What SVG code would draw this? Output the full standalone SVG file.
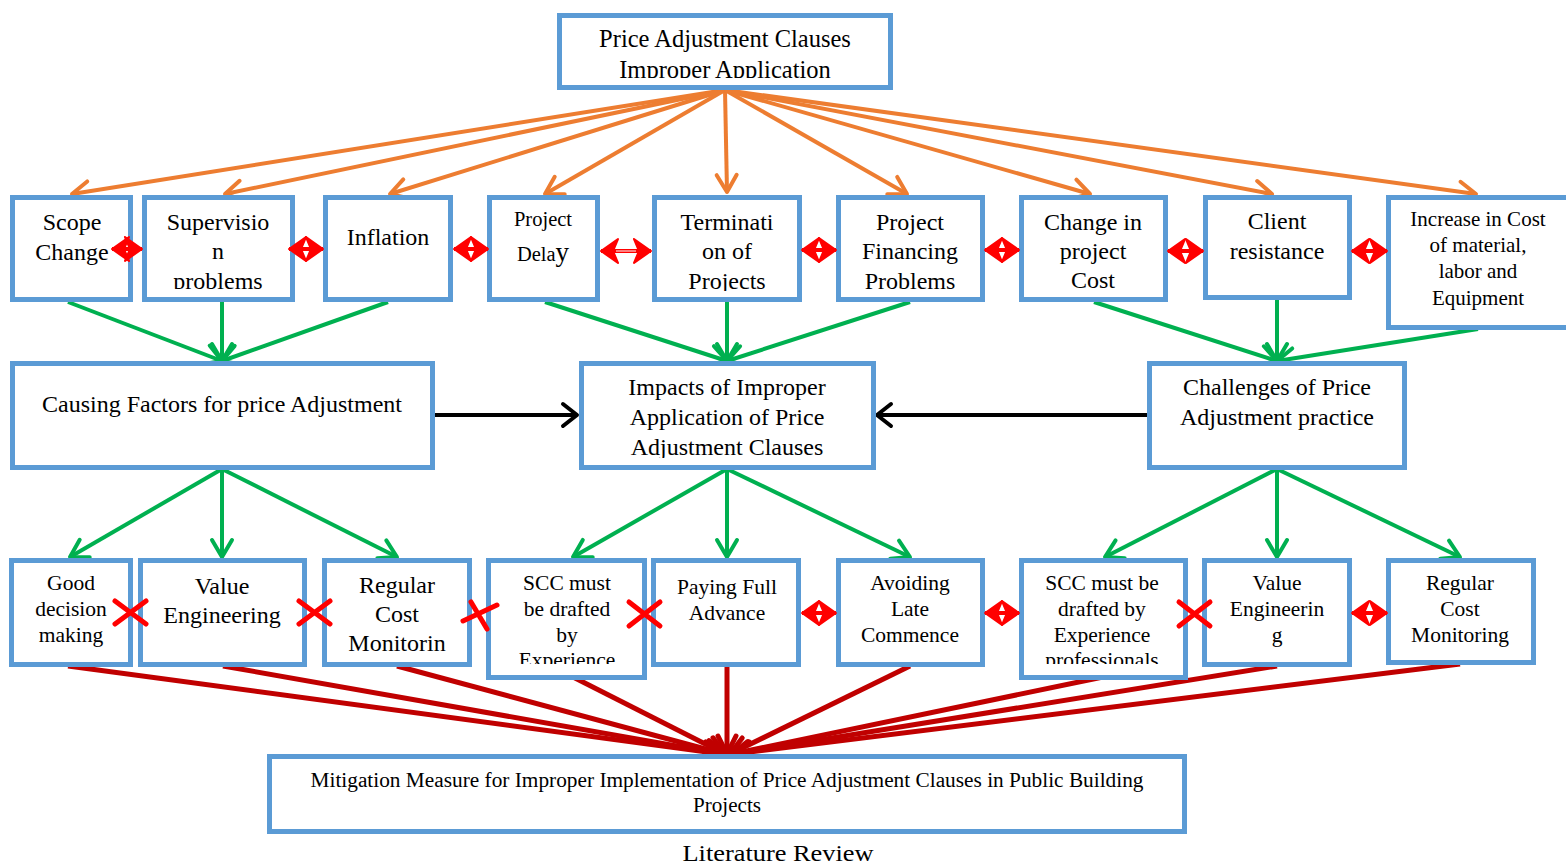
<svg xmlns="http://www.w3.org/2000/svg" width="1566" height="863" viewBox="0 0 1566 863">
<style>
.box{fill:#fff;stroke:#5B9BD5;stroke-width:5}
text{font-family:"Liberation Serif","Times New Roman",serif;fill:#000;text-anchor:middle}
.f21{font-size:24px}
.f19{font-size:21.5px}
.f18{font-size:21px}
.or{stroke:#ED7D31;stroke-width:4;fill:none}
.gr{stroke:#00B050;stroke-width:4;fill:none}
.bk{stroke:#000;stroke-width:4;fill:none}
.dr{stroke:#C00000;stroke-width:5;fill:none}
.rd{stroke:#FF0000;stroke-width:4;fill:none}
.rx{stroke:#FF0000;stroke-width:5;stroke-linecap:round;fill:none}
</style>
<defs>
<marker id="mo" markerUnits="userSpaceOnUse" viewBox="-22 -14 26 28" markerWidth="26" markerHeight="28" refX="0" refY="0" orient="auto" overflow="visible"><path d="M-17,-10 L0,0 L-17,10" fill="none" stroke="#ED7D31" stroke-width="4" stroke-linecap="round" stroke-linejoin="round"/></marker>
<marker id="mg" markerUnits="userSpaceOnUse" viewBox="-22 -14 26 28" markerWidth="26" markerHeight="28" refX="0" refY="0" orient="auto" overflow="visible"><path d="M-17,-10 L0,0 L-17,10" fill="none" stroke="#00B050" stroke-width="4" stroke-linecap="round" stroke-linejoin="round"/></marker>
<marker id="mk" markerUnits="userSpaceOnUse" viewBox="-22 -14 26 28" markerWidth="26" markerHeight="28" refX="0" refY="0" orient="auto" overflow="visible"><path d="M-14,-11 L0,0 L-14,11" fill="none" stroke="#000" stroke-width="4" stroke-linecap="round" stroke-linejoin="round"/></marker>
<marker id="mr" markerUnits="userSpaceOnUse" viewBox="-22 -14 26 28" markerWidth="26" markerHeight="28" refX="0" refY="0" orient="auto" overflow="visible"><path d="M-18,-9 L0,0 L-18,9" fill="none" stroke="#C00000" stroke-width="5" stroke-linecap="round" stroke-linejoin="round"/></marker>
<marker id="md" markerUnits="userSpaceOnUse" viewBox="-20 -14 22 28" markerWidth="22" markerHeight="28" refX="0" refY="0" orient="auto-start-reverse" overflow="visible"><path d="M-17,-12 L0,0 L-17,12 L-12,0 Z" fill="#FF0000" stroke="#FF0000" stroke-width="2" stroke-linejoin="round"/></marker>
<clipPath id="cTop"><rect x="560" y="16" width="330" height="62"/></clipPath>
<clipPath id="cSup"><rect x="145" y="198" width="147" height="91"/></clipPath>
<clipPath id="cTer"><rect x="655" y="198" width="143" height="93"/></clipPath>
<clipPath id="cImp"><rect x="582" y="364" width="291" height="94"/></clipPath>
<clipPath id="cScc"><rect x="489" y="561" width="155" height="103"/></clipPath>
<clipPath id="cScc2"><rect x="1022" y="561" width="163" height="103"/></clipPath>
</defs>

<g id="connectors">
<line class="or" x1="725" y1="90" x2="72" y2="194" marker-end="url(#mo)"/>
<line class="or" x1="725" y1="90" x2="225" y2="194" marker-end="url(#mo)"/>
<line class="or" x1="725" y1="90" x2="390" y2="194" marker-end="url(#mo)"/>
<line class="or" x1="725" y1="90" x2="545" y2="194" marker-end="url(#mo)"/>
<line class="or" x1="725" y1="90" x2="727" y2="192" marker-end="url(#mo)"/>
<line class="or" x1="725" y1="90" x2="907" y2="194" marker-end="url(#mo)"/>
<line class="or" x1="725" y1="90" x2="1090" y2="194" marker-end="url(#mo)"/>
<line class="or" x1="725" y1="90" x2="1272" y2="194" marker-end="url(#mo)"/>
<line class="or" x1="725" y1="90" x2="1476" y2="194" marker-end="url(#mo)"/>

<line class="gr" x1="68" y1="302" x2="222" y2="361" marker-end="url(#mg)"/>
<line class="gr" x1="222" y1="302" x2="222" y2="361" marker-end="url(#mg)"/>
<line class="gr" x1="388" y1="302" x2="222" y2="361" marker-end="url(#mg)"/>
<line class="gr" x1="545" y1="302" x2="727" y2="361" marker-end="url(#mg)"/>
<line class="gr" x1="727" y1="302" x2="727" y2="361" marker-end="url(#mg)"/>
<line class="gr" x1="910" y1="302" x2="727" y2="361" marker-end="url(#mg)"/>
<line class="gr" x1="1094" y1="302" x2="1277" y2="361" marker-end="url(#mg)"/>
<line class="gr" x1="1277" y1="300" x2="1277" y2="361" marker-end="url(#mg)"/>
<line class="gr" x1="1478" y1="329" x2="1277" y2="361" marker-end="url(#mg)"/>

<line class="bk" x1="435" y1="415" x2="577" y2="415" marker-end="url(#mk)"/>
<line class="bk" x1="1147" y1="415" x2="877" y2="415" marker-end="url(#mk)"/>

<line class="gr" x1="222" y1="469" x2="70" y2="557" marker-end="url(#mg)"/>
<line class="gr" x1="222" y1="469" x2="222" y2="557" marker-end="url(#mg)"/>
<line class="gr" x1="222" y1="469" x2="397" y2="557" marker-end="url(#mg)"/>
<line class="gr" x1="727" y1="469" x2="573" y2="557" marker-end="url(#mg)"/>
<line class="gr" x1="727" y1="469" x2="727" y2="557" marker-end="url(#mg)"/>
<line class="gr" x1="727" y1="469" x2="910" y2="557" marker-end="url(#mg)"/>
<line class="gr" x1="1277" y1="469" x2="1105" y2="557" marker-end="url(#mg)"/>
<line class="gr" x1="1277" y1="469" x2="1277" y2="557" marker-end="url(#mg)"/>
<line class="gr" x1="1277" y1="469" x2="1460" y2="557" marker-end="url(#mg)"/>

<line class="dr" x1="68" y1="666" x2="722" y2="754" marker-end="url(#mr)"/>
<line class="dr" x1="223" y1="666" x2="722" y2="754" marker-end="url(#mr)"/>
<line class="dr" x1="397" y1="666" x2="724" y2="754" marker-end="url(#mr)"/>
<line class="dr" x1="573" y1="677" x2="725" y2="754" marker-end="url(#mr)"/>
<line class="dr" x1="727" y1="666" x2="727" y2="754" marker-end="url(#mr)"/>
<line class="dr" x1="910" y1="666" x2="730" y2="754" marker-end="url(#mr)"/>
<line class="dr" x1="1103" y1="677" x2="732" y2="754" marker-end="url(#mr)"/>
<line class="dr" x1="1277" y1="666" x2="733" y2="754" marker-end="url(#mr)"/>
<line class="dr" x1="1460" y1="664" x2="733" y2="754" marker-end="url(#mr)"/>
</g>

<g id="n-top"><rect class="box" x="559.5" y="15.5" width="331" height="72"/>
<g clip-path="url(#cTop)"><text x="725" y="47" font-size="24.5">Price Adjustment Clauses</text><text x="725" y="78" font-size="24.5">Improper Application</text></g></g>

<g id="n-scope"><rect class="box" x="12.5" y="197.5" width="118" height="102"/>
<text class="f21" x="72" y="230">Scope</text><text class="f21" x="72" y="260">Change</text></g>
<g id="n-supervision"><rect class="box" x="144.5" y="197.5" width="148" height="102"/>
<g clip-path="url(#cSup)"><text class="f21" x="218" y="230">Supervisio</text><text class="f21" x="218" y="259">n</text><text class="f21" x="218" y="289">problems</text></g></g>
<g id="n-inflation"><rect class="box" x="325.5" y="197.5" width="125" height="102"/>
<text class="f21" x="388" y="245">Inflation</text></g>
<g id="n-delay"><rect class="box" x="489.5" y="197.5" width="108" height="102"/>
<text x="543" y="226" font-size="20.5">Project</text><text x="543" y="261" font-size="20.5">Dela<tspan font-size="27">y</tspan></text></g>
<g id="n-termination"><rect class="box" x="654.5" y="197.5" width="145" height="102"/>
<g clip-path="url(#cTer)"><text class="f21" x="727" y="230">Terminati</text><text class="f21" x="727" y="259">on of</text><text class="f21" x="727" y="289">Projects</text></g></g>
<g id="n-financing"><rect class="box" x="838.5" y="197.5" width="144" height="102"/>
<text class="f21" x="910" y="230">Project</text><text class="f21" x="910" y="259">Financing</text><text class="f21" x="910" y="289">Problems</text></g>
<g id="n-change"><rect class="box" x="1021.5" y="197.5" width="144" height="102"/>
<text class="f21" x="1093" y="230">Change in</text><text class="f21" x="1093" y="259">project</text><text class="f21" x="1093" y="288">Cost</text></g>
<g id="n-client"><rect class="box" x="1205.5" y="197.5" width="144" height="100"/>
<text class="f21" x="1277" y="229">Client</text><text class="f21" x="1277" y="259">resistance</text></g>
<g id="n-increase"><rect class="box" x="1388.5" y="197.5" width="190" height="130"/>
<text class="f18" x="1478" y="226">Increase in Cost</text><text class="f18" x="1478" y="252">of material,</text><text class="f18" x="1478" y="278">labor and</text><text class="f18" x="1478" y="305">Equipment</text></g>

<g id="n-causing"><rect class="box" x="12.5" y="363.5" width="420" height="104"/>
<text class="f21" x="222" y="412">Causing Factors for price Adjustment</text></g>
<g id="n-impacts"><rect class="box" x="581.5" y="363.5" width="292" height="104"/>
<g clip-path="url(#cImp)"><text class="f21" x="727" y="395">Impacts of Improper</text><text class="f21" x="727" y="425">Application of Price</text><text class="f21" x="727" y="455">Adjustment Clauses</text></g></g>
<g id="n-challenges"><rect class="box" x="1149.5" y="363.5" width="255" height="104"/>
<text class="f21" x="1277" y="395">Challenges of Price</text><text class="f21" x="1277" y="425">Adjustment practice</text></g>

<g id="n-good"><rect class="box" x="11.5" y="560.5" width="119" height="104"/>
<text class="f19" x="71" y="590">Good</text><text class="f19" x="71" y="616">decision</text><text class="f19" x="71" y="642">making</text></g>
<g id="n-value"><rect class="box" x="140.5" y="560.5" width="164" height="104"/>
<text class="f21" x="222" y="594">Value</text><text class="f21" x="222" y="623">Engineering</text></g>
<g id="n-regular"><rect class="box" x="324.5" y="560.5" width="145" height="104"/>
<text class="f21" x="397" y="593">Regular</text><text class="f21" x="397" y="622">Cost</text><text class="f21" x="397" y="651">Monitorin</text></g>
<g id="n-scc"><rect class="box" x="488.5" y="560.5" width="156" height="117"/>
<g clip-path="url(#cScc)"><text class="f19" x="567" y="590">SCC must</text><text class="f19" x="567" y="616">be drafted</text><text class="f19" x="567" y="642">by</text><text class="f19" x="567" y="667">Experience</text></g></g>
<g id="n-paying"><rect class="box" x="653.5" y="560.5" width="145" height="104"/>
<text class="f19" x="727" y="594">Paying Full</text><text class="f19" x="727" y="620">Advance</text></g>
<g id="n-avoiding"><rect class="box" x="838.5" y="560.5" width="144" height="104"/>
<text class="f19" x="910" y="590">Avoiding</text><text class="f19" x="910" y="616">Late</text><text class="f19" x="910" y="642">Commence</text></g>
<g id="n-scc2"><rect class="box" x="1021.5" y="560.5" width="164" height="117"/>
<g clip-path="url(#cScc2)"><text class="f19" x="1102" y="590">SCC must be</text><text class="f19" x="1102" y="616">drafted by</text><text class="f19" x="1102" y="642">Experience</text><text class="f19" x="1102" y="667">professionals</text></g></g>
<g id="n-value2"><rect class="box" x="1204.5" y="560.5" width="145" height="104"/>
<text class="f19" x="1277" y="590">Value</text><text class="f19" x="1277" y="616">Engineerin</text><text class="f19" x="1277" y="642">g</text></g>
<g id="n-regular2"><rect class="box" x="1388.5" y="560.5" width="145" height="102"/>
<text class="f19" x="1460" y="590">Regular</text><text class="f19" x="1460" y="616">Cost</text><text class="f19" x="1460" y="642">Monitoring</text></g>

<g id="n-mitigation"><rect class="box" x="269.5" y="756.5" width="915" height="75"/>
<text x="727" y="787" font-size="20" textLength="833" lengthAdjust="spacingAndGlyphs">Mitigation Measure for Improper Implementation of Price Adjustment Clauses in Public Building</text>
<text x="727" y="812" font-size="20" textLength="68" lengthAdjust="spacingAndGlyphs">Projects</text></g>

<g id="relations">
<line class="rd" x1="112" y1="249" x2="142" y2="249" marker-start="url(#md)" marker-end="url(#md)"/>
<line class="rd" x1="289" y1="249" x2="323" y2="249" marker-start="url(#md)" marker-end="url(#md)"/>
<line class="rd" x1="454" y1="249" x2="488" y2="249" marker-start="url(#md)" marker-end="url(#md)"/>
<line class="rd" x1="601" y1="251" x2="651" y2="251" marker-start="url(#md)" marker-end="url(#md)"/>
<line x1="616" y1="251" x2="636" y2="251" stroke="#fff" stroke-width="1"/>
<line class="rd" x1="802" y1="250" x2="836" y2="250" marker-start="url(#md)" marker-end="url(#md)"/>
<line class="rd" x1="985" y1="250" x2="1019" y2="250" marker-start="url(#md)" marker-end="url(#md)"/>
<line class="rd" x1="1168" y1="251" x2="1203" y2="251" marker-start="url(#md)" marker-end="url(#md)"/>
<line class="rd" x1="1352" y1="251" x2="1387" y2="251" marker-start="url(#md)" marker-end="url(#md)"/>

<path class="rx" d="M115,601 L146,624 M115,624 L146,601"/>
<path class="rx" d="M299,601 L330,624 M299,624 L330,601"/>
<path class="rx" d="M463,621 L497,605 M471,602 L487,629"/>
<path class="rx" d="M629,602 L660,626 M629,626 L660,602"/>
<line class="rd" x1="802" y1="613" x2="836" y2="613" marker-start="url(#md)" marker-end="url(#md)"/>
<line class="rd" x1="985" y1="613" x2="1019" y2="613" marker-start="url(#md)" marker-end="url(#md)"/>
<path class="rx" d="M1179,602 L1210,626 M1179,626 L1210,602"/>
<line class="rd" x1="1352" y1="613" x2="1387" y2="613" marker-start="url(#md)" marker-end="url(#md)"/>
</g>

<text id="caption" x="778" y="861" font-size="24" textLength="191" lengthAdjust="spacingAndGlyphs">Literature Review</text>
</svg>
